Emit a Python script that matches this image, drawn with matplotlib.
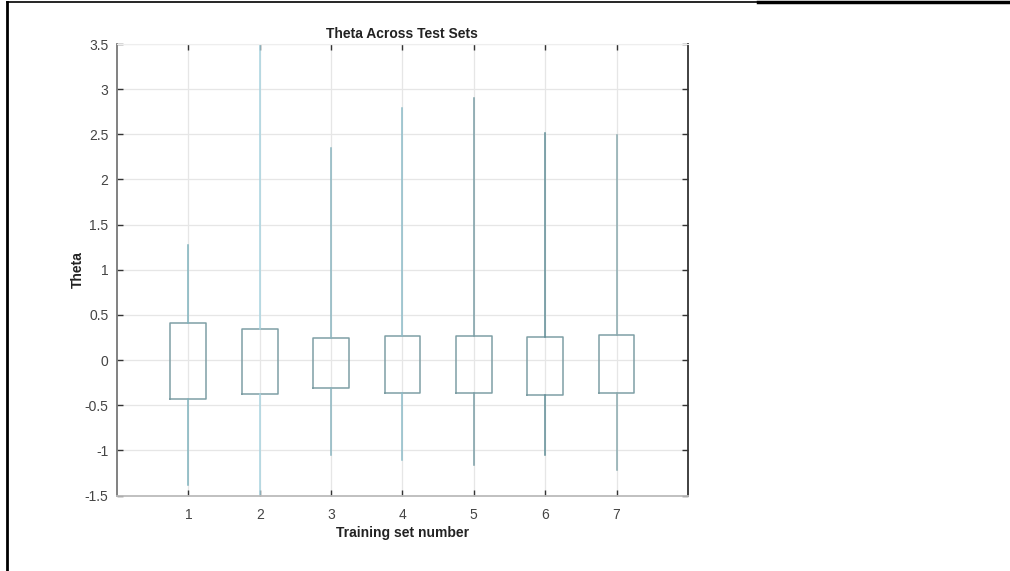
import matplotlib.pyplot as plt
from matplotlib.lines import Line2D

plt.rcParams['font.family'] = ['Liberation Sans', 'DejaVu Sans']

# Box statistics (no medians drawn)
sets = [1, 2, 3, 4, 5, 6, 7]
whisker_low = [-1.38, -1.55, -1.05, -1.11, -1.16, -1.05, -1.22]
q1 = [-0.436, -0.376, -0.306, -0.369, -0.369, -0.384, -0.369]
q3 = [0.413, 0.343, 0.247, 0.262, 0.262, 0.251, 0.277]
whisker_high = [1.27, 3.55, 2.35, 2.79, 2.90, 2.52, 2.49]
whisker_colors = ['#7fb3bd', '#a9d4e0', '#8ab5bf', '#8dbcc8', '#7a9ea6', '#5f8d96', '#8aa9ae']

yticks = [-1.5, -1, -0.5, 0, 0.5, 1, 1.5, 2, 2.5, 3, 3.5]
ytick_labels = ['-1.5', '-1', '-0.5', '0', '0.5', '1', '1.5', '2', '2.5', '3', '3.5']

fig = plt.figure(figsize=(10.1, 5.71), dpi=100)
ax = fig.add_axes([0.1158, 0.1322, 0.5653, 0.7907])

stats = []
for i in range(len(sets)):
    stats.append(dict(whislo=whisker_low[i], q1=q1[i], med=(q1[i] + q3[i]) / 2,
                      q3=q3[i], whishi=whisker_high[i], fliers=[]))

bp = ax.bxp(stats, positions=sets, widths=0.5, showcaps=False, showfliers=False,
            boxprops=dict(color='#7f9fa5', linewidth=1.1),
            whiskerprops=dict(linewidth=1.1),
            medianprops=dict(visible=False))
for i, c in enumerate(whisker_colors):
    bp['whiskers'][2 * i].set_color(c)
    bp['whiskers'][2 * i + 1].set_color(c)

ax.set_xlim(0, 8)
ax.set_ylim(-1.5, 3.5)
ax.set_xticks(sets)
ax.set_xticklabels([str(s) for s in sets])
ax.set_yticks(yticks)
ax.set_yticklabels(ytick_labels)
ax.grid(True, color='#e6e6e6', linewidth=0.9)
ax.set_axisbelow(True)
ax.tick_params(direction='in', length=4, width=1, colors='#333333',
               labelcolor='#444444', labelsize=10, top=True, right=True)
ax.tick_params(axis='x', pad=9)
ax.tick_params(axis='y', pad=6)
ax.spines['left'].set_color('#777777')
ax.spines['left'].set_linewidth(1.3)
ax.spines['bottom'].set_color('#bbbbbb')
ax.spines['bottom'].set_linewidth(1.3)
ax.spines['right'].set_color('#333333')
ax.spines['right'].set_linewidth(1.3)
ax.spines['top'].set_color('#eeeeee')

ax.set_title('Theta Across Test Sets', fontsize=10, fontweight='bold', color='#222222', pad=4)
ax.set_xlabel('Training set number', fontsize=10, fontweight='bold', color='#222222', labelpad=3)
ax.set_ylabel('Theta', fontsize=10, fontweight='bold', color='#222222', labelpad=0)

# page border lines
fig.add_artist(Line2D([0.0069, 0.0069], [0.0, 0.9965], color='black', linewidth=2))
fig.add_artist(Line2D([0.0069, 0.75], [0.9965, 0.9965], color='black', linewidth=1.2))
fig.add_artist(Line2D([0.75, 1.0], [0.9965, 0.9965], color='black', linewidth=2.5))

fig.savefig('out.png', dpi=100)
